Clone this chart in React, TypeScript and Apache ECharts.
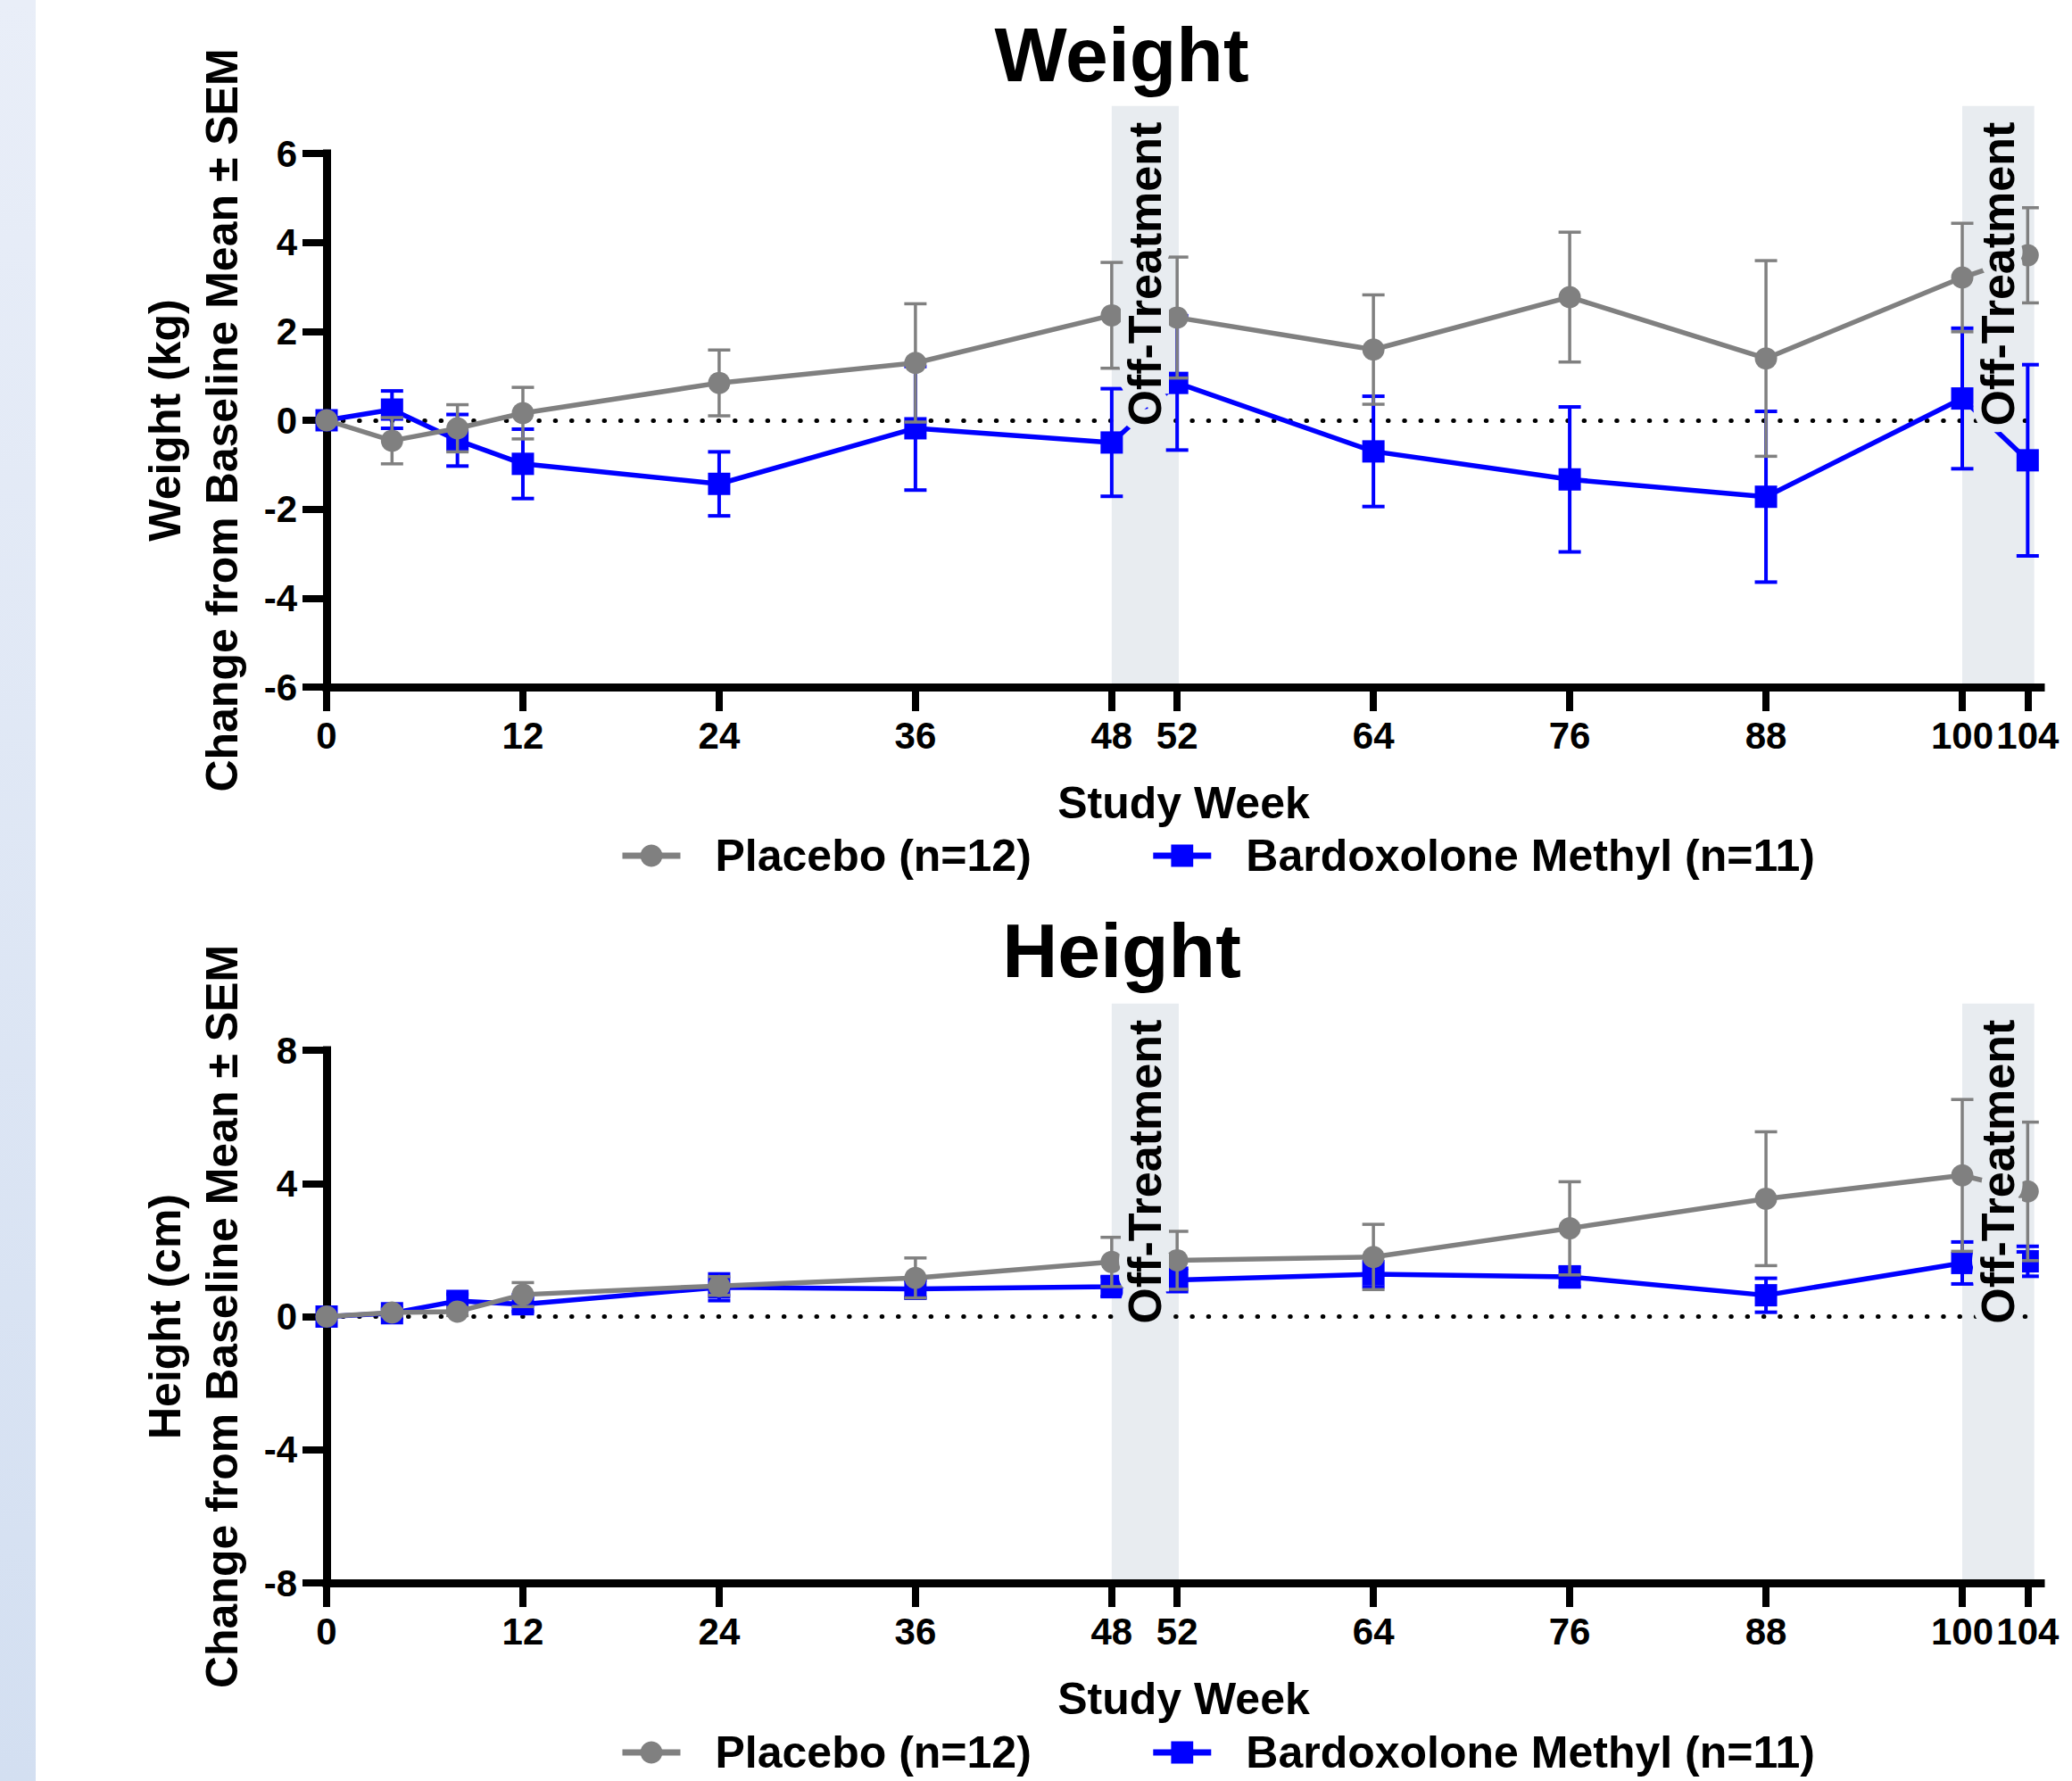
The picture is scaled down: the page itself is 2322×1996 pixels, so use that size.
import React, { useEffect, useRef } from 'react';
import * as echarts from 'echarts';

// ---------- data ----------
const weeks = [0, 4, 8, 12, 24, 36, 48, 52, 64, 76, 88, 100, 104];
const weekTicks = [0, 12, 24, 36, 48, 52, 64, 76, 88, 100, 104];

const weightPlacebo = [0, -0.46, -0.18, 0.16, 0.84, 1.29, 2.36, 2.31, 1.59, 2.77, 1.39, 3.21, 3.71];
const weightPlaceboSem = [0, 0.52, 0.53, 0.58, 0.74, 1.33, 1.19, 1.36, 1.23, 1.46, 2.2, 1.22, 1.07];
const weightBM = [0, 0.24, -0.45, -0.98, -1.43, -0.18, -0.5, 0.84, -0.7, -1.33, -1.72, 0.49, -0.9];
const weightBMSem = [0, 0.42, 0.58, 0.78, 0.72, 1.39, 1.21, 1.51, 1.24, 1.63, 1.92, 1.58, 2.15];

const heightPlacebo = [0, 0.12, 0.15, 0.66, 0.92, 1.16, 1.64, 1.69, 1.79, 2.65, 3.54, 4.24, 3.76];
const heightPlaceboSem = [0, 0.1, 0.12, 0.36, 0.28, 0.6, 0.74, 0.87, 0.98, 1.4, 2.01, 2.28, 2.08];
const heightBM = [0, 0.1, 0.47, 0.37, 0.88, 0.83, 0.9, 1.1, 1.27, 1.19, 0.64, 1.61, 1.66];
const heightBMSem = [0, 0.15, 0.2, 0.22, 0.4, 0.26, 0.3, 0.35, 0.38, 0.3, 0.51, 0.63, 0.45];

const offTreatmentStart = [48, 100];
const offTreatmentEnd = [52.1, 104.4];

const PLACEBO = 'Placebo (n=12)';
const BM = 'Bardoxolone Methyl (n=11)';

// ---------- styles ----------
const FONT = '"Liberation Sans", Arial, Helvetica, sans-serif';
const GRAY = '#808080';
const BLUE = '#0000ff';
const BAND = '#e8ecf0';

function errorBars(values: number[], sems: number[], color: string, width: number, idx: number, z: number) {
  return {
    type: 'custom',
    name: 'eb',
    xAxisIndex: idx,
    yAxisIndex: idx,
    z,
    silent: true,
    clip: false,
    data: weeks.map((w, i) => [w, values[i], sems[i]]).filter((d) => d[2] > 0),
    encode: { x: 0, y: 1 },
    renderItem: (_p: any, api: any) => {
      const x = api.value(0);
      const y = api.value(1);
      const e = api.value(2);
      const t = api.coord([x, y + e]);
      const b = api.coord([x, y - e]);
      const hw = 12.5;
      const style = { stroke: color, lineWidth: width };
      return {
        type: 'group',
        children: [
          { type: 'line', shape: { x1: t[0], y1: t[1], x2: b[0], y2: b[1] }, style },
          { type: 'line', shape: { x1: t[0] - hw, y1: t[1], x2: t[0] + hw, y2: t[1] }, style },
          { type: 'line', shape: { x1: b[0] - hw, y1: b[1], x2: b[0] + hw, y2: b[1] }, style },
        ],
      };
    },
  };
}

function lineSeries(name: string, values: number[], color: string, symbol: string, idx: number, z: number, extra: any = {}) {
  return {
    type: 'line',
    name,
    xAxisIndex: idx,
    yAxisIndex: idx,
    z,
    data: weeks.map((w, i) => [w, values[i]]),
    symbol,
    symbolSize: 25,
    showSymbol: true,
    lineStyle: { color, width: 5.5 },
    itemStyle: { color },
    emphasis: { disabled: true },
    ...extra,
  };
}

function bandSeries(idx: number, top: number, bottom: number) {
  return {
    type: 'custom',
    name: 'band',
    xAxisIndex: idx,
    yAxisIndex: idx,
    z: 0,
    silent: true,
    clip: false,
    data: offTreatmentStart.map((s, i) => [s, offTreatmentEnd[i], top, bottom]),
    encode: { x: [0, 1], y: [2, 3] },
    renderItem: (_p: any, api: any) => {
      const p0 = api.coord([api.value(0), api.value(2)]);
      const p1 = api.coord([api.value(1), api.value(3)]);
      return {
        type: 'rect',
        shape: { x: p0[0], y: p0[1], width: p1[0] - p0[0], height: p1[1] - p0[1] },
        style: { fill: BAND },
      };
    },
  };
}

function bandTextSeries(idx: number, top: number) {
  return {
    type: 'custom',
    name: 'bandText',
    xAxisIndex: idx,
    yAxisIndex: idx,
    z: 10,
    silent: true,
    clip: false,
    data: offTreatmentStart.map((s, i) => [(s + offTreatmentEnd[i]) / 2, top]),
    encode: { x: 0, y: 1 },
    renderItem: (_p: any, api: any) => {
      const p = api.coord([api.value(0), api.value(1)]);
      return {
        type: 'text',
        x: p[0],
        y: p[1] + 18,
        rotation: Math.PI / 2,
        z2: 100,
        style: {
          legacy: false,
          text: 'Off-Treatment',
          fill: '#000',
          font: `bold 52px ${FONT}`,
          align: 'right',
          verticalAlign: 'middle',
          stroke: BAND,
          lineWidth: 18,
        },
      };
    },
  };
}

const axisLineStyle = { color: '#000', width: 9, cap: 'square' };
const tickStyle = { color: '#000', width: 8 };
const labelStyle = { fontSize: 42, fontWeight: 'bold', color: '#000', fontFamily: FONT, margin: 33 };
const nameStyle = { fontSize: 50, fontWeight: 'bold', color: '#000', fontFamily: FONT };

function xAxis(idx: number) {
  return {
    gridIndex: idx,
    type: 'value',
    min: 0,
    max: 104.8,
    name: 'Study Week',
    nameLocation: 'middle',
    nameGap: 105,
    nameTextStyle: nameStyle,
    axisLine: { show: true, onZero: false, lineStyle: axisLineStyle },
    axisTick: { show: true, length: 27, customValues: weekTicks, lineStyle: tickStyle },
    axisLabel: { ...labelStyle, customValues: weekTicks },
    splitLine: { show: false },
  };
}

function yAxis(idx: number, min: number, max: number, interval: number, name: string) {
  return {
    gridIndex: idx,
    type: 'value',
    min,
    max,
    interval,
    name,
    nameLocation: 'middle',
    nameRotate: 90,
    nameGap: 85,
    nameTextStyle: { ...nameStyle, lineHeight: 64 },
    axisLine: { show: true, onZero: false, lineStyle: axisLineStyle },
    axisTick: { show: true, length: 27, lineStyle: tickStyle },
    axisLabel: labelStyle,
    splitLine: { show: false },
  };
}

function legend(top: number) {
  return {
    data: [PLACEBO, BM],
    left: 694,
    top,
    orient: 'horizontal',
    padding: 0,
    itemWidth: 65,
    itemHeight: 31,
    itemGap: 133,
    selectedMode: false,
    lineStyle: { width: 7 },
    textStyle: { fontSize: 50, fontWeight: 'bold', color: '#000', fontFamily: FONT, padding: [0, 0, 0, 34] },
  };
}

const zeroLine = {
  silent: true,
  z: 1,
  symbol: ['none', 'none'],
  label: { show: false },
  lineStyle: { color: '#000', width: 5, type: [0.5, 17.8], cap: 'round' },
  data: [{ yAxis: 0 }],
};

const option: any = {
  animation: false,
  backgroundColor: '#fff',
  textStyle: { fontFamily: FONT },
  graphic: [
    {
      type: 'rect',
      left: 0,
      top: 0,
      z: -10,
      silent: true,
      shape: { x: 0, y: 0, width: 40, height: 1996 },
      style: {
        fill: new echarts.graphic.LinearGradient(0, 0, 0, 1, [
          { offset: 0, color: '#e9eef8' },
          { offset: 1, color: '#d3dff1' },
        ]),
      },
    },
  ],
  title: [
    { text: 'Weight', left: 1257, top: 18, textAlign: 'center', padding: 0, textStyle: { fontSize: 86, fontWeight: 'bold', color: '#000', fontFamily: FONT } },
    { text: 'Height', left: 1257, top: 1022, textAlign: 'center', padding: 0, textStyle: { fontSize: 86, fontWeight: 'bold', color: '#000', fontFamily: FONT } },
  ],
  legend: [legend(934), legend(1939)],
  grid: [
    { left: 366, top: 172, width: 1921, height: 598, outerBoundsMode: 'none' },
    { left: 366, top: 1177, width: 1921, height: 597, outerBoundsMode: 'none' },
  ],
  xAxis: [xAxis(0), xAxis(1)],
  yAxis: [
    yAxis(0, -6, 6, 2, 'Weight (kg)\nChange from Baseline Mean ± SEM'),
    yAxis(1, -8, 8, 4, 'Height (cm)\nChange from Baseline Mean ± SEM'),
  ],
  series: [
    bandSeries(0, 7.07, -6),
    errorBars(weightBM, weightBMSem, BLUE, 4, 0, 2),
    lineSeries(BM, weightBM, BLUE, 'rect', 0, 3, { markLine: zeroLine }),
    errorBars(weightPlacebo, weightPlaceboSem, GRAY, 3.5, 0, 4),
    lineSeries(PLACEBO, weightPlacebo, GRAY, 'circle', 0, 5),
    bandTextSeries(0, 7.07),

    bandSeries(1, 9.4, -8),
    errorBars(heightBM, heightBMSem, BLUE, 4, 1, 2),
    lineSeries(BM, heightBM, BLUE, 'rect', 1, 3, { markLine: zeroLine }),
    errorBars(heightPlacebo, heightPlaceboSem, GRAY, 3.5, 1, 4),
    lineSeries(PLACEBO, heightPlacebo, GRAY, 'circle', 1, 5),
    bandTextSeries(1, 9.4),
  ],
};

export default function App() {
  const ref = useRef<HTMLDivElement>(null);
  useEffect(() => {
    const chart = echarts.init(ref.current!, null, { renderer: 'svg' });
    chart.setOption(option);
    return () => chart.dispose();
  }, []);
  return (
    <div
      ref={ref}
      style={{ position: 'fixed', left: 0, top: 0, width: 2322, height: 1996, background: '#fff' }}
    />
  );
}
